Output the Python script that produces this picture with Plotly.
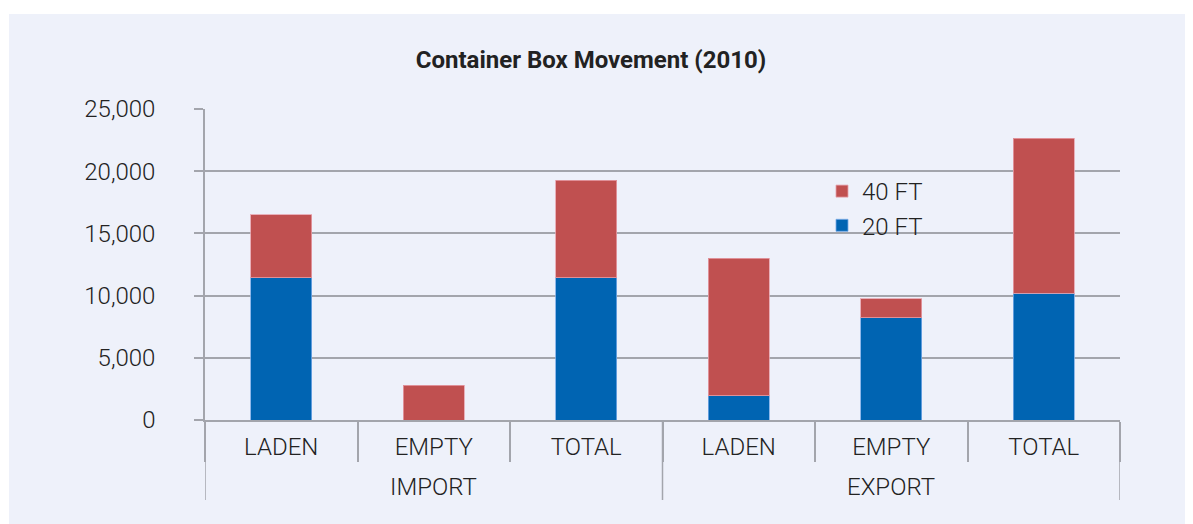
import plotly.graph_objects as go

groups = ["IMPORT", "IMPORT", "IMPORT", "EXPORT", "EXPORT", "EXPORT"]
categories = ["LADEN", "EMPTY", "TOTAL", "LADEN", "EMPTY", "TOTAL"]
ft20 = [11450, 0, 11450, 1950, 8230, 10200]
ft40 = [5050, 2800, 7820, 11050, 1500, 12450]
y_ticks = [0, 5000, 10000, 15000, 20000, 25000]
y_ticklabels = ["0", "5,000", "10,000", "15,000", "20,000", "25,000"]

BLUE = "#0064B2"
RED = "#C05050"
BG = "#EEF1FA"
GRID = "#A3A5AC"
TEXT = "#222222"
FONT = "Roboto"

idx = list(range(len(categories)))

fig = go.Figure()
fig.add_trace(go.Bar(
    x=idx, y=ft20, name="20 FT",
    marker=dict(color=BLUE, line=dict(color="rgba(120,170,230,0.8)", width=1)),
))
fig.add_trace(go.Bar(
    x=idx, y=ft40, name="40 FT",
    marker=dict(color=RED, line=dict(color="rgba(230,160,170,0.8)", width=1)),
))

# page has an 8px body margin -> figure is 1185x516 placed at (8,8)
W, H = 1185, 516
L, R, T, B = 197, 73, 101, 104
pw = W - L - R
ph = H - T - B

# lavender panel
fig.add_shape(type="rect", xref="paper", yref="paper",
              x0=(1 - L) / pw, x1=(W - L) / pw + 0.01,
              y0=-(B + 5) / ph, y1=(ph + T - 6) / ph,
              fillcolor=BG, line=dict(width=0), layer="below")

# boundaries between categories and groups
bounds = [i - 0.5 for i in range(len(categories) + 1)]
group_bounds = [-0.5]
group_names = []
group_centers = []
start = 0
for i in range(1, len(groups) + 1):
    if i == len(groups) or groups[i] != groups[start]:
        group_bounds.append(i - 0.5)
        group_names.append(groups[start])
        group_centers.append((start + i - 1) / 2)
        start = i

for gb in group_bounds:
    fig.add_shape(type="line", xref="x", yref="paper",
                  x0=gb, x1=gb, y0=0, y1=-80 / ph,
                  line=dict(color=GRID, width=1.5), layer="above")

for name, c in zip(group_names, group_centers):
    fig.add_annotation(x=c, xref="x", y=-67 / ph, yref="paper",
                       text=name, showarrow=False, yanchor="middle",
                       font=dict(family=FONT, size=24, color=TEXT, weight=300))

fig.update_layout(
    width=W, height=H,
    margin=dict(l=L, r=R, t=T, b=B, pad=0),
    paper_bgcolor="white",
    plot_bgcolor=BG,
    barmode="stack",
    bargap=0.6,
    font=dict(family=FONT, color=TEXT, size=24, weight=300),
    title=dict(
        text="Container Box Movement (2010)",
        font=dict(family=FONT, size=24, color=TEXT, weight=700),
        x=(583 - L) / pw, xref="paper", xanchor="center",
        y=1 - 52 / H, yref="container", yanchor="middle",
    ),
    legend=dict(
        x=(814 - L) / pw, y=(H - B - 161) / ph, xanchor="left", yanchor="top",
        bgcolor="rgba(0,0,0,0)", font=dict(size=24, color=TEXT, weight=300),
        itemwidth=30, tracegroupgap=0,
    ),
    showlegend=True,
    xaxis=dict(
        type="linear",
        range=[-0.5, len(categories) - 0.5],
        tickvals=idx, ticktext=categories,
        ticks="", ticklabelstandoff=4,
        minor=dict(tickvals=bounds, ticks="outside", ticklen=40,
                   tickwidth=1.5, tickcolor=GRID, showgrid=False),
        showline=True, linecolor=GRID, linewidth=2,
        showgrid=False, zeroline=False,
        tickfont=dict(family=FONT, size=24, color=TEXT, weight=300),
    ),
    yaxis=dict(
        range=[0, 25000],
        tickvals=y_ticks, ticktext=y_ticklabels,
        showgrid=True, gridcolor=GRID, gridwidth=2,
        showline=True, linecolor=GRID, linewidth=1.5,
        ticks="outside", ticklen=9, tickwidth=2, tickcolor=GRID,
        ticklabelstandoff=34,
        zeroline=False,
        tickfont=dict(family=FONT, size=24, color=TEXT, weight=300),
    ),
)

fig.write_html("out.html")
